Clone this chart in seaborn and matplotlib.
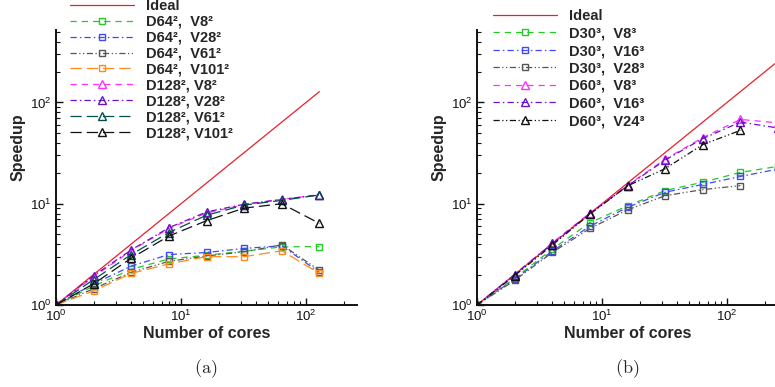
import numpy as np
import pandas as pd
import matplotlib
matplotlib.use("Agg")
import matplotlib.pyplot as plt
import seaborn as sns

sns.set_style("ticks")
plt.rcParams['font.family'] = ['Liberation Sans', 'DejaVu Sans']
plt.rcParams['mathtext.fontset'] = 'cm'

# ---------------- data: panel (a) ----------------
cores_a = [1, 2, 4, 8, 16, 32, 64, 128]
ideal_a = [1, 2, 4, 8, 16, 32, 64, 128]
d64_v8 = [1, 1.54, 2.25, 2.85, 3.1, 3.4, 3.75, 3.78]
d64_v28 = [1, 1.62, 2.42, 3.15, 3.3, 3.62, 3.85, 2.1]
d64_v61 = [1, 1.45, 2.1, 2.7, 3.05, 3.35, 3.93, 2.2]
d64_v101 = [1, 1.38, 2.05, 2.55, 3.0, 3.0, 3.43, 2.05]
d128_v8 = [1, 1.9, 3.45, 5.7, 8.1, 9.8, 11.1, 12.2]
d128_v28 = [1, 1.95, 3.5, 5.8, 8.3, 9.9, 11.0, 12.3]
d128_v61 = [1, 1.78, 3.15, 5.2, 7.7, 9.7, 10.8, 12.2]
d128_v101 = [1, 1.62, 2.9, 4.8, 6.8, 9.06, 10.0, 6.4]
labels_a = ["Ideal", "D64²,  V8²", "D64²,  V28²", "D64²,  V61²", "D64²,  V101²",
            "D128², V8²", "D128², V28²", "D128², V61²", "D128², V101²"]

# ---------------- data: panel (b) ----------------
cores_b = [1, 2, 4, 8, 16, 32, 64, 128, 256]
ideal_b = [1, 2, 4, 8, 16, 32, 64, 128, 256]
d30_v8 = [1, 1.84, 3.56, 6.5, 9.55, 13.5, 16.3, 20.4, 23.4]
d30_v16 = [1, 1.8, 3.4, 6.0, 9.2, 13.0, 15.5, 18.6, 22.0]
d30_v28 = [1, 1.75, 3.3, 5.7, 8.7, 12.0, 13.8, 15.1]
d60_v8 = [1, 2.0, 4.1, 8.1, 15.2, 27.5, 45.0, 68.0, 63.0]
d60_v16 = [1, 2.0, 4.05, 8.0, 15.0, 27.0, 44.0, 64.0, 56.0]
d60_v24 = [1, 1.95, 3.9, 7.9, 15.0, 22.2, 38.4, 53.0]
labels_b = ["Ideal", "D30³,  V8³", "D30³,  V16³", "D30³,  V28³",
            "D60³,  V8³", "D60³,  V16³", "D60³,  V24³"]

DASH = (0, (5, 4))
LDASH = (0, (9, 4))
DDOT = (0, (5, 2.5, 1.2, 2.5))
DDDOT = (0, (5, 2, 1, 2, 1, 2))

styles_a = [
    ("#e8202a", "-", None),
    ("#22cc22", DASH, "s"),
    ("#3f48ff", DDOT, "s"),
    ("#555555", DDDOT, "s"),
    ("#ff8a1c", LDASH, "s"),
    ("#ff30ff", DASH, "^"),
    ("#6a10c8", DDOT, "^"),
    ("#005050", LDASH, "^"),
    ("#111111", LDASH, "^"),
]
styles_b = [
    ("#e8202a", "-", None),
    ("#22cc22", DASH, "s"),
    ("#3f48ff", DDOT, "s"),
    ("#555555", DDDOT, "s"),
    ("#ff30ff", DASH, "^"),
    ("#6a10c8", DDOT, "^"),
    ("#111111", DDDOT, "^"),
]

series_a = [ideal_a, d64_v8, d64_v28, d64_v61, d64_v101, d128_v8, d128_v28, d128_v61, d128_v101]
series_b = [ideal_b, d30_v8, d30_v16, d30_v28, d60_v8, d60_v16, d60_v24]

fig = plt.figure(figsize=(7.75, 3.87), dpi=100)
W, H = 775, 387
ax_a = fig.add_axes([56 / W, 82 / H, 301 / W, 275 / H])
ax_b = fig.add_axes([477 / W, 82 / H, 301 / W, 275 / H])


def draw(ax, cores, series, labels, styles):
    for ys, lab, (c, ls, mk) in zip(series, labels, styles):
        df = pd.DataFrame({"x": cores[:len(ys)], "y": ys})
        kw = dict(color=c, linestyle=ls, linewidth=0.9, label=lab)
        if mk is not None:
            kw.update(marker=mk, markersize=5 if mk == "s" else 6.2,
                      markerfacecolor="none", markeredgecolor=c,
                      markeredgewidth=1.0)
        sns.lineplot(data=df, x="x", y="y", ax=ax, legend=False, **kw)
    ax.set_xscale("log")
    ax.set_yscale("log")
    ax.set_xlim(1, 256)
    ax.set_ylim(1, 520)
    for s in ["top", "right"]:
        ax.spines[s].set_visible(False)
    for s in ["left", "bottom"]:
        ax.spines[s].set_linewidth(1.4)
        ax.spines[s].set_color("#111111")
    ax.tick_params(which="major", direction="in", length=5, width=1.0,
                   labelsize=9.5, colors="#111111", pad=3)
    ax.tick_params(which="minor", direction="in", length=3, width=0.8,
                   colors="#111111")
    ax.set_xlabel("Number of cores", fontsize=11.5, fontweight="bold")
    ax.set_ylabel("Speedup", fontsize=11.5, fontweight="bold")
    ax.xaxis.set_label_coords(0.5, -0.078)
    ax.yaxis.set_label_coords(-0.102, 0.575)


draw(ax_a, cores_a, series_a, labels_a, styles_a)
draw(ax_b, cores_b, series_b, labels_b, styles_b)

for ax, xy, sp in [(ax_a, (70 / W, 1 - (-1) / H), 0.13), (ax_b, (493 / W, 1 - 9 / H), 0.24)]:
    h, l = ax.get_legend_handles_labels()
    leg = ax.legend(h, l, loc="upper left", bbox_to_anchor=xy,
                    bbox_transform=fig.transFigure, frameon=False,
                    borderpad=0, borderaxespad=0, handlelength=4.4,
                    handletextpad=0.8, labelspacing=sp, numpoints=1,
                    prop={"weight": "bold", "size": 10.5})
    leg.set_zorder(5)

fig.text(206 / W, 1 - 369 / H, r"$\mathrm{(a)}$", ha="center", va="center", fontsize=13)
fig.text(627 / W, 1 - 369 / H, r"$\mathrm{(b)}$", ha="center", va="center", fontsize=13)

fig.savefig("out.png", dpi=100)
